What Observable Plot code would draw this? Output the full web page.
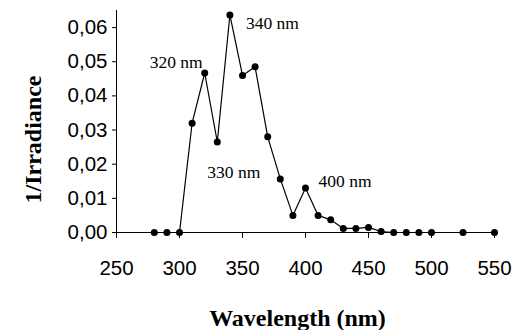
<!DOCTYPE html>
<html>
<head>
<meta charset="utf-8">
<script src="https://cdn.jsdelivr.net/npm/d3@7"></script>
<script src="https://cdn.jsdelivr.net/npm/@observablehq/plot@0.6"></script>
<style>
  body { margin: 0; background: #fff; }
  svg { font-family: "Liberation Sans", Arial, sans-serif; }
</style>
</head>
<body>
<div id="chart"></div>
<script>
const wavelengths = [280, 290, 300, 310, 320, 330, 340, 350, 360, 370, 380, 390, 400, 410, 420, 430, 440, 450, 460, 470, 480, 490, 500, 525, 550];
const invIrradiance = [0, 0, 0, 0.032, 0.0467, 0.0265, 0.0637, 0.046, 0.0485, 0.028, 0.0157, 0.005, 0.013, 0.005, 0.0037, 0.0012, 0.0012, 0.0015, 0.0003, 0, 0, 0, 0, 0, 0];
const xTicks = [250, 300, 350, 400, 450, 500, 550];
const yTicks = [0, 0.01, 0.02, 0.03, 0.04, 0.05, 0.06];
const peakLabels = ["320 nm", "340 nm", "330 nm", "400 nm"];
const peakWavelengths = [320, 340, 330, 400];

const data = wavelengths.map((w, i) => ({w, v: invIrradiance[i]}));
const peak = (k) => [{w: peakWavelengths[k], v: invIrradiance[wavelengths.indexOf(peakWavelengths[k])], t: peakLabels[k]}];
const labelFont = {fontFamily: "Liberation Serif, Times New Roman, serif", fontSize: 17.5, fill: "black"};
const titleFont = {fontFamily: "Liberation Serif, Times New Roman, serif", fontWeight: "bold", fontSize: 24, fill: "black"};

const chart = Plot.plot({
  width: 527,
  height: 330,
  marginLeft: 116,
  marginRight: 33,
  marginTop: 10,
  marginBottom: 98,
  x: {domain: [250, 550]},
  y: {domain: [0, 0.065]},
  style: {fontFamily: "Liberation Sans, Arial, sans-serif", color: "black"},
  marks: [
    Plot.axisY({ticks: yTicks, tickSize: 4, tickPadding: 5, fontSize: 20.5, label: null,
      tickFormat: d => d3.format(".2f")(d).replace(".", ",")}),
    Plot.axisX({ticks: xTicks, tickSize: 6, tickPadding: 22, fontSize: 20.5, label: null,
      tickFormat: d => String(d)}),
    Plot.ruleX([250], {y1: 0, y2: 0.065, stroke: "black"}),
    Plot.ruleY([0], {stroke: "black"}),
    Plot.line(data, {x: "w", y: "v", stroke: "black", strokeWidth: 1.2}),
    Plot.dot(data, {x: "w", y: "v", r: 3.5, fill: "black"}),
    Plot.text(peak(0), {x: "w", y: "v", text: "t", textAnchor: "end", lineAnchor: "middle", dx: -2, dy: -11, ...labelFont}),
    Plot.text(peak(1), {x: "w", y: "v", text: "t", textAnchor: "start", lineAnchor: "middle", dx: 16, dy: 8, ...labelFont}),
    Plot.text(peak(2), {x: "w", y: "v", text: "t", textAnchor: "start", lineAnchor: "middle", dx: -10, dy: 30, ...labelFont}),
    Plot.text(peak(3), {x: "w", y: "v", text: "t", textAnchor: "start", lineAnchor: "middle", dx: 13, dy: -7, ...labelFont}),
    Plot.text(["Wavelength (nm)"], {frameAnchor: "bottom", textAnchor: "middle", lineAnchor: "middle", dx: -8, dy: 86, ...titleFont}),
    Plot.text(["1/Irradiance"], {frameAnchor: "left", rotate: -90, textAnchor: "middle", lineAnchor: "middle", dx: -83, dy: 18, ...titleFont})
  ]
});
document.getElementById("chart").appendChild(chart);
</script>
</body>
</html>
